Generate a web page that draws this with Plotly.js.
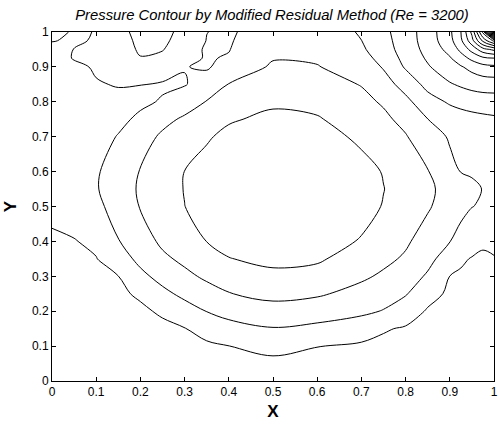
<!DOCTYPE html>
<html>
<head>
<meta charset="utf-8">
<script src="https://cdn.plot.ly/plotly-3.0.1.min.js"></script>
<style>html,body{margin:0;padding:0;background:#fff;}#chart{width:500px;height:424px;}</style>
</head>
<body>
<div id="chart"></div>
<script>
// grid positions (X, Y) of the pressure samples
const xGrid = [0, 0.05, 0.1, 0.15, 0.2, 0.25, 0.3, 0.35, 0.4, 0.5, 0.6, 0.7, 0.75, 0.8, 0.85, 0.9, 0.925, 0.95, 0.975, 1];
const yGrid = [0, 0.05, 0.1, 0.15, 0.2, 0.25, 0.3, 0.35, 0.4, 0.5, 0.55, 0.6, 0.7, 0.75, 0.8, 0.85, 0.9, 0.925, 0.95, 0.975, 1];

// pressure values (arbitrary level units), one row per Y value
const p000 = [4.6, 4.62, 4.64, 4.65, 4.62, 4.6, 4.6, 4.6, 4.6, 4.6, 4.6, 4.65, 4.65, 4.68, 4.7, 4.72, 4.72, 4.72, 4.72, 4.72];
const p005 = [4.53, 4.57, 4.56, 4.54, 4.48, 4.44, 4.41, 4.37, 4.31, 4.22, 4.30, 4.39, 4.42, 4.48, 4.55, 4.6, 4.61, 4.62, 4.63, 4.62];
const p010 = [4.47, 4.5, 4.47, 4.43, 4.35, 4.29, 4.22, 4.13, 4.01, 3.72, 3.98, 4.13, 4.18, 4.28, 4.39, 4.48, 4.51, 4.53, 4.54, 4.53];
const p015 = [4.4, 4.42, 4.38, 4.33, 4.23, 4.14, 4.03, 3.70, 3.34, 3.05, 3.23, 3.55, 3.93, 4.08, 4.24, 4.37, 4.4, 4.43, 4.45, 4.43];
const p020 = [4.33, 4.34, 4.3, 4.22, 4.11, 3.91, 3.41, 2.98, 2.68, 2.36, 2.53, 2.80, 3.05, 3.57, 4.08, 4.25, 4.3, 4.33, 4.37, 4.34];
const p025 = [4.26, 4.27, 4.21, 4.11, 3.91, 3.24, 2.77, 2.37, 2.03, 1.74, 1.88, 2.31, 2.58, 2.92, 3.72, 4.13, 4.19, 4.24, 4.28, 4.24];
const p030 = [4.2, 4.19, 4.12, 4.01, 3.24, 2.68, 2.22, 1.84, 1.52, 1.21, 1.34, 1.85, 2.14, 2.53, 3.12, 4.01, 4.09, 4.14, 4.19, 4.14];
const p035 = [4.13, 4.11, 4.03, 3.46, 2.75, 2.18, 1.8, 1.41, 1.03, 0.78, 0.87, 1.46, 1.79, 2.12, 2.72, 3.48, 3.9, 4.04, 4.07, 4.05];
const p040 = [4.06, 4.04, 3.82, 3.04, 2.42, 1.83, 1.5, 0.99, 0.73, 0.48, 0.58, 1.07, 1.52, 1.87, 2.4, 2.98, 3.35, 3.7, 3.93, 3.8];
const p050 = [3.9, 3.6, 3.22, 2.63, 1.95, 1.52, 1.01, 0.66, 0.40, 0.14, 0.24, 0.66, 1.05, 1.5, 1.9, 2.45, 2.72, 2.98, 3.1, 3.2];
const p055 = [3.85, 3.46, 3.07, 2.48, 1.88, 1.39, 0.97, 0.62, 0.36, 0.11, 0.2, 0.62, 0.98, 1.37, 1.81, 2.35, 2.55, 2.8, 3.03, 3.1];
const p060 = [3.78, 3.43, 3.09, 2.6, 1.95, 1.5, 0.99, 0.67, 0.41, 0.14, 0.24, 0.68, 1.05, 1.53, 1.95, 2.8, 3.02, 3.11, 3.2, 3.3];
const p070 = [3.68, 3.45, 3.22, 2.97, 2.39, 1.85, 1.5, 1.10, 0.77, 0.49, 0.60, 1.19, 1.57, 1.93, 2.61, 3.08, 3.24, 3.36, 3.48, 3.6];
const p075 = [3.64, 3.47, 3.30, 3.14, 2.89, 2.26, 1.86, 1.5, 1.10, 0.79, 0.92, 1.47, 1.80, 2.28, 2.99, 3.45, 3.58, 3.68, 3.77, 3.85];
const p080 = [3.6, 3.48, 3.36, 3.23, 3.11, 2.95, 2.45, 1.96, 1.54, 1.15, 1.27, 1.75, 2.11, 2.75, 3.6, 4.12, 4.30, 4.44, 4.52, 4.55];
const p085 = [3.55, 3.4, 3.06, 2.95, 2.99, 3.08, 3.06, 2.57, 1.97, 1.51, 1.61, 2.04, 2.6, 3.37, 4.3, 4.91, 5.13, 5.31, 5.42, 5.45];
const p090 = [3.5, 3.2, 2.9, 2.75, 2.39, 2.55, 2.97, 3.1, 2.61, 1.88, 1.96, 2.42, 3.08, 4.11, 4.9, 5.62, 5.91, 6.32, 6.68, 6.8];
const p0925 = [3.45, 2.94, 2.85, 2.63, 2.05, 2.23, 2.77, 3.06, 2.94, 2.05, 2.1, 2.62, 3.35, 4.29, 5.13, 5.91, 6.56, 7.25, 7.8, 7.98];
const p095 = [3.35, 2.98, 2.8, 2.55, 1.85, 1.95, 2.62, 3.1, 3.03, 2.2, 2.23, 2.85, 3.55, 4.44, 5.31, 6.32, 7.25, 8.33, 9.61, 10.25];
const p0975 = [2.95, 3.15, 2.9, 2.41, 1.78, 1.78, 2.46, 3.02, 3.08, 2.35, 2.37, 2.99, 3.65, 4.52, 5.42, 6.68, 7.8, 9.61, 12.27, 14.25];
const p100 = [2.4, 3.2, 2.95, 2.3, 1.7, 1.7, 2.3, 2.99, 3.12, 2.5, 2.5, 3.08, 3.75, 4.55, 5.45, 6.8, 7.98, 10.25, 14.25, 24];

const pressure = [p000, p005, p010, p015, p020, p025, p030, p035, p040, p050, p055, p060,
                  p070, p075, p080, p085, p090, p0925, p095, p0975, p100];

// contour levels
const levelStart = 1, levelEnd = 23, levelStep = 1;

// tick labels
const tickVals = [0, 0.1, 0.2, 0.3, 0.4, 0.5, 0.6, 0.7, 0.8, 0.9, 1];
const tickText = ['0', '0.1', '0.2', '0.3', '0.4', '0.5', '0.6', '0.7', '0.8', '0.9', '1'];

const font = 'Liberation Sans, Arial, Helvetica, sans-serif';

const trace = {
  type: 'contour',
  x: xGrid, y: yGrid, z: pressure,
  contours: {start: levelStart, end: levelEnd, size: levelStep, coloring: 'lines', showlabels: false},
  colorscale: [[0, '#000000'], [1, '#000000']],
  line: {width: 1, smoothing: 1},
  showscale: false,
  hoverinfo: 'skip'
};

const axisCommon = {
  range: [0, 1],
  tickvals: tickVals, ticktext: tickText,
  ticks: 'inside', ticklen: 4, tickwidth: 1, tickcolor: '#000000',
  showline: true, linecolor: '#000000', linewidth: 1, mirror: 'ticks',
  showgrid: false, zeroline: false,
  tickfont: {family: font, size: 12, color: '#000000'}
};

const layout = {
  width: 500, height: 424,
  margin: {l: 52, r: 6, t: 32, b: 43},
  paper_bgcolor: '#ffffff', plot_bgcolor: '#ffffff',
  font: {family: font, color: '#000000'},
  showlegend: false,
  title: {
    text: 'Pressure Contour by Modified Residual Method (Re = 3200)',
    font: {family: font, size: 14.8, color: '#000000', style: 'italic'},
    xref: 'container', x: 0.544, xanchor: 'center',
    yref: 'container', y: 0.966, yanchor: 'middle'
  },
  xaxis: Object.assign({}, axisCommon, {
    title: {text: 'X', font: {family: font, size: 17, color: '#000000', weight: 'bold'}, standoff: 6}
  }),
  yaxis: Object.assign({}, axisCommon, {
    title: {text: 'Y', font: {family: font, size: 17, color: '#000000', weight: 'bold'}, standoff: 10}
  })
};

Plotly.newPlot('chart', [trace], layout, {staticPlot: true, displayModeBar: false});
</script>
</body>
</html>
